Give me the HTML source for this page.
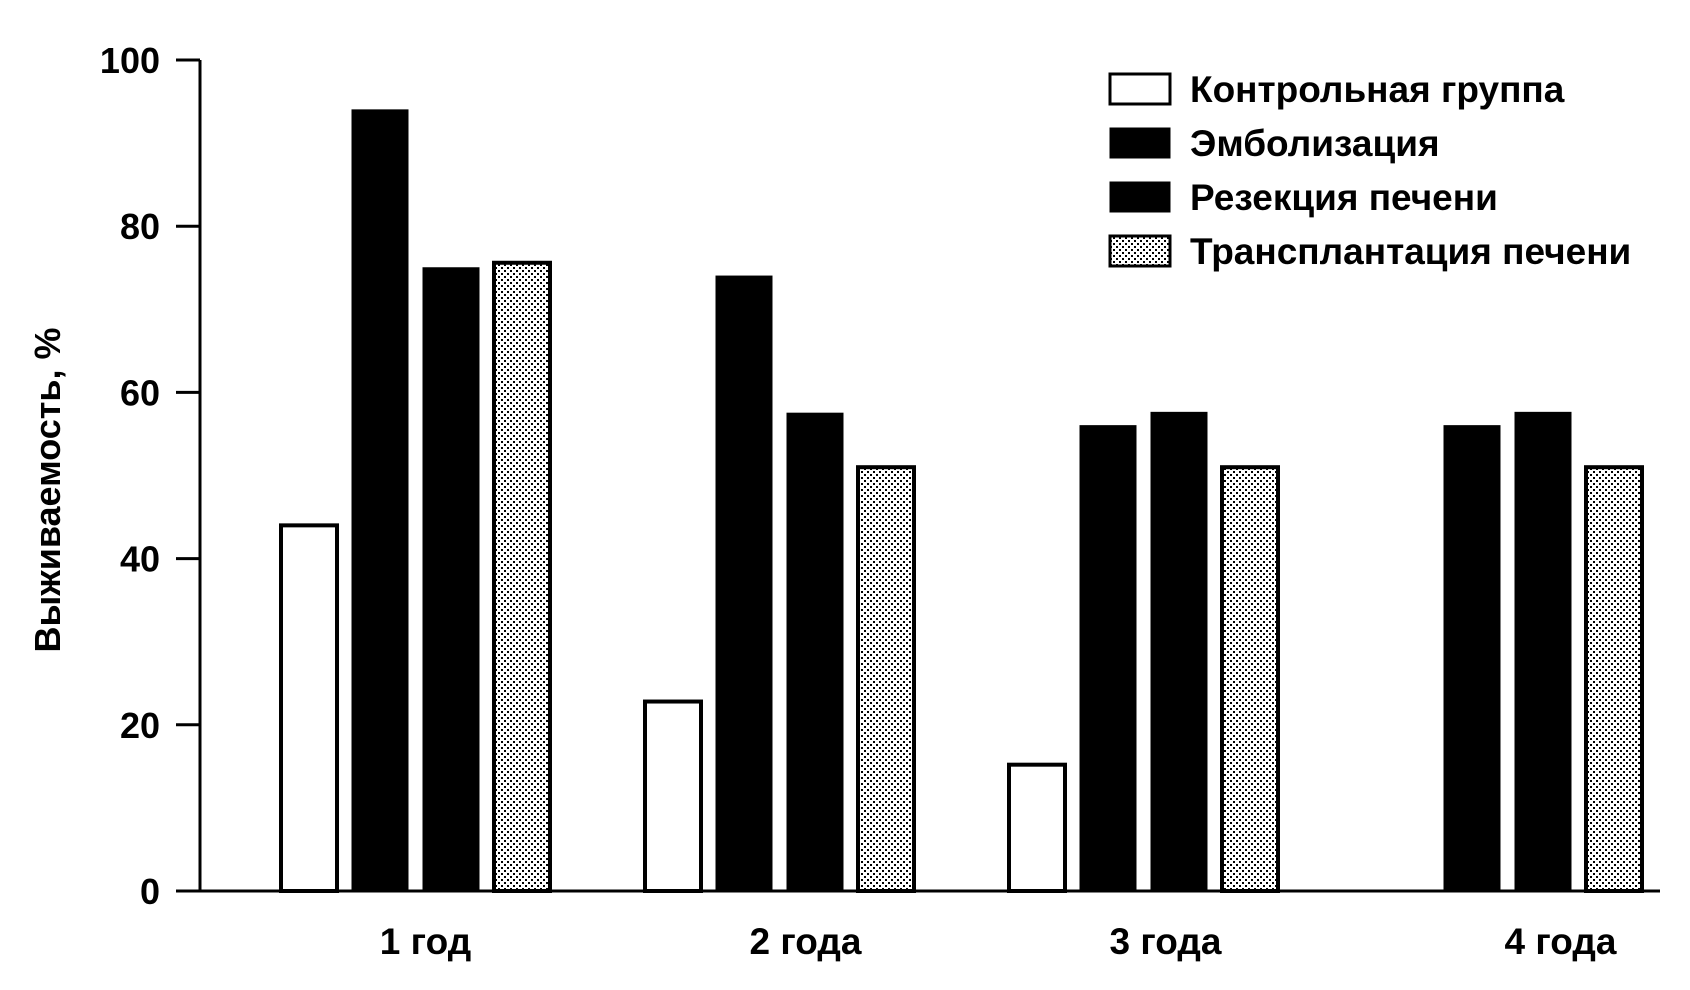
<!DOCTYPE html>
<html><head><meta charset="utf-8"><style>
html,body{margin:0;padding:0;background:#fff;}
svg{display:block;font-family:"Liberation Sans",sans-serif;font-weight:bold;}
</style></head><body>
<svg id="chart" width="1690" height="990" viewBox="0 0 1690 990">
<defs>
<pattern id="dots" width="6" height="6" patternUnits="userSpaceOnUse">
<rect width="6" height="6" fill="#fff"/>
<rect x="0" y="0" width="2" height="2" fill="#000"/>
<rect x="3" y="3" width="2" height="2" fill="#000"/>
</pattern>
</defs>
<g id="axes"></g>
<g id="bars"></g>
<g id="legend"></g>
</svg>
<script>
const categories = ["1 год", "2 года", "3 года", "4 года"];
const seriesNames = ["Контрольная группа", "Эмболизация", "Резекция печени", "Трансплантация печени"];
const controlValues = [44, 22.8, 15.2, 0];
const embolValues = [94, 74, 56, 56];
const resectValues = [75, 57.5, 57.6, 57.6];
const transValues = [75.6, 51, 51, 51];
const yTicks = [0, 20, 40, 60, 80, 100];

const NS = "http://www.w3.org/2000/svg";
const X0 = 200, X1 = 1660, Y0 = 891, Y100 = 60;
const y = v => Y0 - (v / 100) * (Y0 - Y100);
const groupStart = i => 281 + i * 364;
const barX = (g, s) => groupStart(g) + s * 71;
const BW = 56;
const series = [controlValues, embolValues, resectValues, transValues];
const fills = ["#fff", "#000", "#000", "url(#dots)"];
const labelShift = [10, 26, 22, 53];

function mk(tag, attrs, parent) {
  const e = document.createElementNS(NS, tag);
  for (const k in attrs) e.setAttribute(k, attrs[k]);
  parent.appendChild(e);
  return e;
}
const axes = document.getElementById("axes");
const yl = mk("line", {x1: X0, y1: Y100, x2: X0, y2: Y0, stroke: "#000", "stroke-width": 3}, axes);


const xl = mk("line", {x1: X0 - 1, y1: Y0, x2: X1, y2: Y0, stroke: "#000", "stroke-width": 3}, axes);


yTicks.forEach(t => {
  const tk = mk("line", {x1: X0 - 24, y1: y(t), x2: X0, y2: y(t), stroke: "#000", "stroke-width": 3}, axes);
  
  
  const tx = mk("text", {x: 160, y: y(t) + 13, "text-anchor": "end", "font-size": 36}, axes);
  tx.textContent = t;
  
  
});
const yt = mk("text", {x: 0, y: 0, "text-anchor": "middle", "font-size": 36, transform: "translate(60,490) rotate(-90)"}, axes);
yt.textContent = "Выживаемость, %";


categories.forEach((c, i) => {
  const cx = groupStart(i) + (3 * 71 + BW) / 2 + labelShift[i];
  const tx = mk("text", {x: cx, y: 954, "text-anchor": "middle", "font-size": 37}, axes);
  tx.textContent = c;
  
  
});
const bars = document.getElementById("bars");
series.forEach((vals, s) => {
  vals.forEach((v, g) => {
    if (v <= 0) return;
    const r = mk("rect", {x: barX(g, s), y: y(v), width: BW, height: Y0 - y(v), fill: fills[s], stroke: "#000", "stroke-width": s === 0 || s === 3 ? 4 : 1}, bars);
    
    
  });
});
const legend = document.getElementById("legend");
seriesNames.forEach((n, i) => {
  const ry = 89 + i * 54;
  const sw = mk("rect", {x: 1110, y: ry - 15, width: 60, height: 30, fill: fills[i], stroke: "#000", "stroke-width": i === 0 || i === 3 ? 3 : 1}, legend);
  
  
  const tx = mk("text", {x: 1190, y: ry + 13, "font-size": 37}, legend);
  tx.textContent = n;
  
  
});
</script>
</body></html>
